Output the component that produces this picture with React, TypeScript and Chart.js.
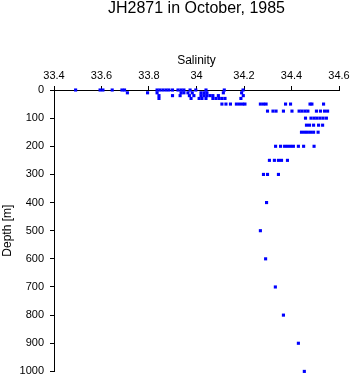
import React, { useEffect, useRef } from "react";
import { Chart, registerables } from "chart.js";

Chart.register(...registerables);

const TITLE = "JH2871 in October, 1985";
const X_TITLE = "Salinity";
const Y_TITLE = "Depth [m]";

const xTickValues = [33.4, 33.6, 33.8, 34.0, 34.2, 34.4, 34.6];
const yTickValues = [0, 100, 200, 300, 400, 500, 600, 700, 800, 900, 1000];

const depthLevels = [0, 10, 20, 30, 50, 75, 100, 125, 150, 200, 250, 300, 400, 500, 600, 700, 800, 900, 1000];

const sal0 = [33.491, 33.594, 33.606, 33.645, 33.686, 33.697, 33.834, 33.846, 33.859, 33.872, 33.884, 33.899, 33.922, 33.935, 33.947, 33.973, 33.997, 34.04, 34.117, 34.196];
const sal10 = [33.709, 33.794, 33.834, 33.935, 33.947, 33.964, 33.982, 34.019, 34.032, 34.044, 34.113, 34.19];
const sal20 = [33.842, 33.899, 33.931, 33.97, 33.989, 34.019, 34.032, 34.044, 34.057, 34.069, 34.092, 34.197];
const sal30 = [33.842, 33.977, 34.011, 34.023, 34.04, 34.069, 34.082, 34.095, 34.107, 34.12, 34.187];
const sal50 = [34.107, 34.124, 34.143, 34.168, 34.181, 34.194, 34.204, 34.269, 34.282, 34.293, 34.375, 34.396, 34.478, 34.486, 34.535];
const sal75 = [34.299, 34.322, 34.335, 34.366, 34.402, 34.432, 34.444, 34.457, 34.469, 34.505, 34.522, 34.539, 34.552];
const sal100 = [34.459, 34.482, 34.495, 34.507, 34.52, 34.533, 34.547];
const sal125 = [34.463, 34.476, 34.493, 34.514, 34.531];
const sal150 = [34.442, 34.455, 34.467, 34.48, 34.493, 34.512];
const sal200 = [34.333, 34.354, 34.371, 34.383, 34.396, 34.408, 34.429, 34.451, 34.495];
const sal250 = [34.307, 34.328, 34.345, 34.358, 34.383];
const sal300 = [34.282, 34.299, 34.345];
const sal400 = [34.295];
const sal500 = [34.269];
const sal600 = [34.291];
const sal700 = [34.332];
const sal800 = [34.366];
const sal900 = [34.429];
const sal1000 = [34.454];

const salinityByLevel = [sal0, sal10, sal20, sal30, sal50, sal75, sal100, sal125, sal150, sal200, sal250, sal300, sal400, sal500, sal600, sal700, sal800, sal900, sal1000];

const FONT = "'Liberation Sans', Arial, Helvetica, sans-serif";

export default function App() {
  const ref = useRef<HTMLCanvasElement | null>(null);

  useEffect(() => {
    document.body.style.margin = "0";
    const canvas = ref.current;
    if (!canvas) return;

    const points: { x: number; y: number }[] = [];
    depthLevels.forEach((d, i) => {
      salinityByLevel[i].forEach((s) => points.push({ x: s, y: d }));
    });

    const titlePlugin = {
      id: "customTitle",
      afterDraw(chart: any) {
        const ctx = chart.ctx;
        const ca = chart.chartArea;
        ctx.save();
        ctx.fillStyle = "#000";
        ctx.font = `16px ${FONT}`;
        ctx.textAlign = "center";
        ctx.textBaseline = "alphabetic";
        ctx.fillText(TITLE, (ca.left + ca.right) / 2, 13);
        ctx.restore();
      },
    };

    Chart.defaults.font.family = FONT;
    Chart.defaults.color = "#000";

    const chart = new Chart(canvas, {
      type: "scatter",
      data: {
        datasets: [
          {
            data: points,
            backgroundColor: "#0000ff",
            borderColor: "#0000ff",
            borderWidth: 0,
            pointStyle: "rect",
            pointRadius: 2.2,
            pointHoverRadius: 2.2,
            showLine: false,
            clip: false,
          },
        ],
      },
      options: {
        responsive: false,
        animation: false,
        layout: { padding: { top: 50, left: 0, right: 14, bottom: 9 } },
        plugins: {
          legend: { display: false },
          title: { display: false },
          tooltip: { enabled: false },
        },
        scales: {
          x: {
            type: "linear",
            position: "top",
            min: xTickValues[0],
            max: xTickValues[xTickValues.length - 1],
            afterBuildTicks: (scale: any) => {
              scale.ticks = xTickValues.map((v) => ({ value: v }));
            },
            afterFit: (scale: any) => {
              scale.height = 40;
            },
            ticks: {
              font: { size: 11 },
              color: "#000",
              padding: 3,
              maxRotation: 0,
              callback: (v: any) => String(Number(Number(v).toFixed(1))),
            },
            grid: { drawOnChartArea: false, drawTicks: true, tickLength: 4, color: "#000" },
            border: { color: "#000", width: 1 },
            title: { display: true, text: X_TITLE, font: { size: 12 }, color: "#000", padding: { top: 3, bottom: 0 } },
          },
          y: {
            type: "linear",
            reverse: true,
            min: 0,
            max: 1000,
            afterBuildTicks: (scale: any) => {
              scale.ticks = yTickValues.map((v) => ({ value: v }));
            },
            afterFit: (scale: any) => {
              scale.width = 54;
            },
            ticks: {
              font: { size: 11 },
              color: "#000",
              padding: 6,
              callback: (v: any) => String(v),
            },
            grid: { drawOnChartArea: false, drawTicks: true, tickLength: 4, color: "#000" },
            border: { color: "#000", width: 1 },
            title: { display: true, text: Y_TITLE, font: { size: 12 }, color: "#000", padding: { top: 0, bottom: 0 } },
          },
        },
      },
      plugins: [titlePlugin],
    } as any);

    return () => chart.destroy();
  }, []);

  return (
    <div style={{ position: "absolute", left: 0, top: 0, width: 353, height: 384, background: "#fff" }}>
      <canvas ref={ref} width={353} height={384} style={{ width: 353, height: 384, display: "block" }} />
    </div>
  );
}
